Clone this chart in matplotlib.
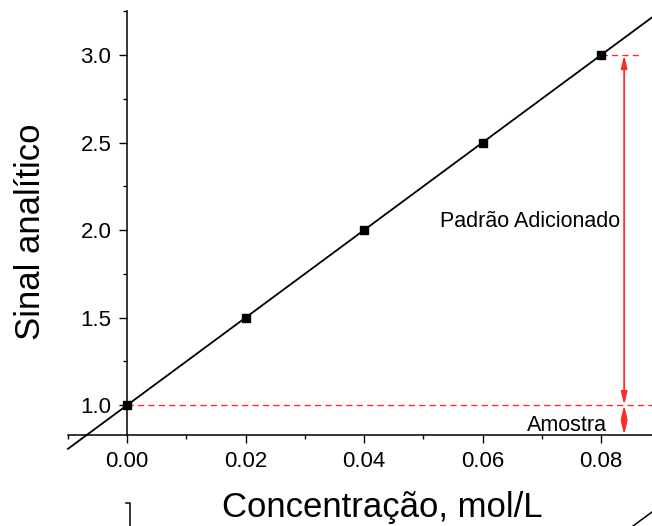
import matplotlib
matplotlib.use("Agg")
import matplotlib.pyplot as plt
from matplotlib.lines import Line2D
import numpy as np

plt.rcParams['font.family'] = ['Liberation Sans', 'DejaVu Sans']

conc = [0.00, 0.02, 0.04, 0.06, 0.08]
signal = [1.0, 1.5, 2.0, 2.5, 3.0]
fit_x = [-0.01, 0.09]
slope, intercept = 25.0, 1.0
xticks = [0.00, 0.02, 0.04, 0.06, 0.08]
yticks = [1.0, 1.5, 2.0, 2.5, 3.0]

W, H = 652, 526
fig = plt.figure(figsize=(W/100, H/100), dpi=100)
ax = fig.add_axes([68/W, 1-435/H, (652-68)/W, (435-11.25)/H])
ax.set_xlim(-0.01, 0.0886)
ax.set_ylim(0.829, 3.25)

fx = np.array(fit_x)
ax.plot(fx, intercept + slope*fx, color='black', lw=1.3, clip_on=False, zorder=3)
ax.plot(conc, signal, ls='none', marker='s', ms=6, color='black', zorder=4, clip_on=False)

red = '#ff2a2a'
ax.plot([0.0, 0.0886], [1.0, 1.0], color=red, ls=(0, (4.5, 3)), lw=1.0, zorder=2)
ax.plot([0.08, 0.0866], [3.0, 3.0], color=red, ls=(0, (4.5, 3)), lw=1.0, zorder=2)
ax_x = 0.0839
ap = dict(arrowstyle='<|-|>,head_length=0.75,head_width=0.18', color=red, lw=1.3, shrinkA=0, shrinkB=0)
ax.annotate('', xy=(ax_x, 3.0), xytext=(ax_x, 1.0), arrowprops=ap, annotation_clip=False)
ax.annotate('', xy=(ax_x, 1.0), xytext=(ax_x, 0.829), arrowprops=ap, annotation_clip=False)

ax.text(0.0832, 2.046, 'Padrão Adicionado', ha='right', va='center', fontsize=15.5)
ax.text(0.0743, 0.886, 'Amostra', ha='center', va='center', fontsize=15.5)

for s in ['top', 'right']:
    ax.spines[s].set_visible(False)
ax.spines['left'].set_position(('data', 0))
ax.spines['left'].set_linewidth(1.1)
ax.spines['bottom'].set_linewidth(1.1)

ax.set_xticks(xticks)
ax.set_xticklabels([f'{v:.2f}' for v in xticks])
ax.set_xticks(np.arange(-0.01, 0.0886, 0.01), minor=True)
ax.set_yticks(yticks)
ax.set_yticklabels([f'{v:.1f}' for v in yticks])
ax.set_yticks(np.arange(1.25, 3.26, 0.5), minor=True)
ax.tick_params(which='major', direction='out', length=5.5, width=1.0, labelsize=16, pad=6)
ax.tick_params(which='minor', direction='out', length=3, width=1.0)

ax.set_xlabel('Concentração, mol/L', fontsize=25)
ax.xaxis.set_label_coords((382-68)/584, (435-491)/423.75)
ax.set_ylabel('Sinal analítico', fontsize=25)
ax.yaxis.set_label_coords((47-68)/584, (435-232)/423.75)

# fragments of neighbouring graphics cut by the image edge
fig.add_artist(Line2D([130/W, 130/W, 126/W], [0, 1-503/H, 1-503/H], color='black', lw=1.1))
fig.add_artist(Line2D([633/W, 652/W], [0, 1-512/H], color='black', lw=1.1))

fig.savefig('out.png', dpi=100)
